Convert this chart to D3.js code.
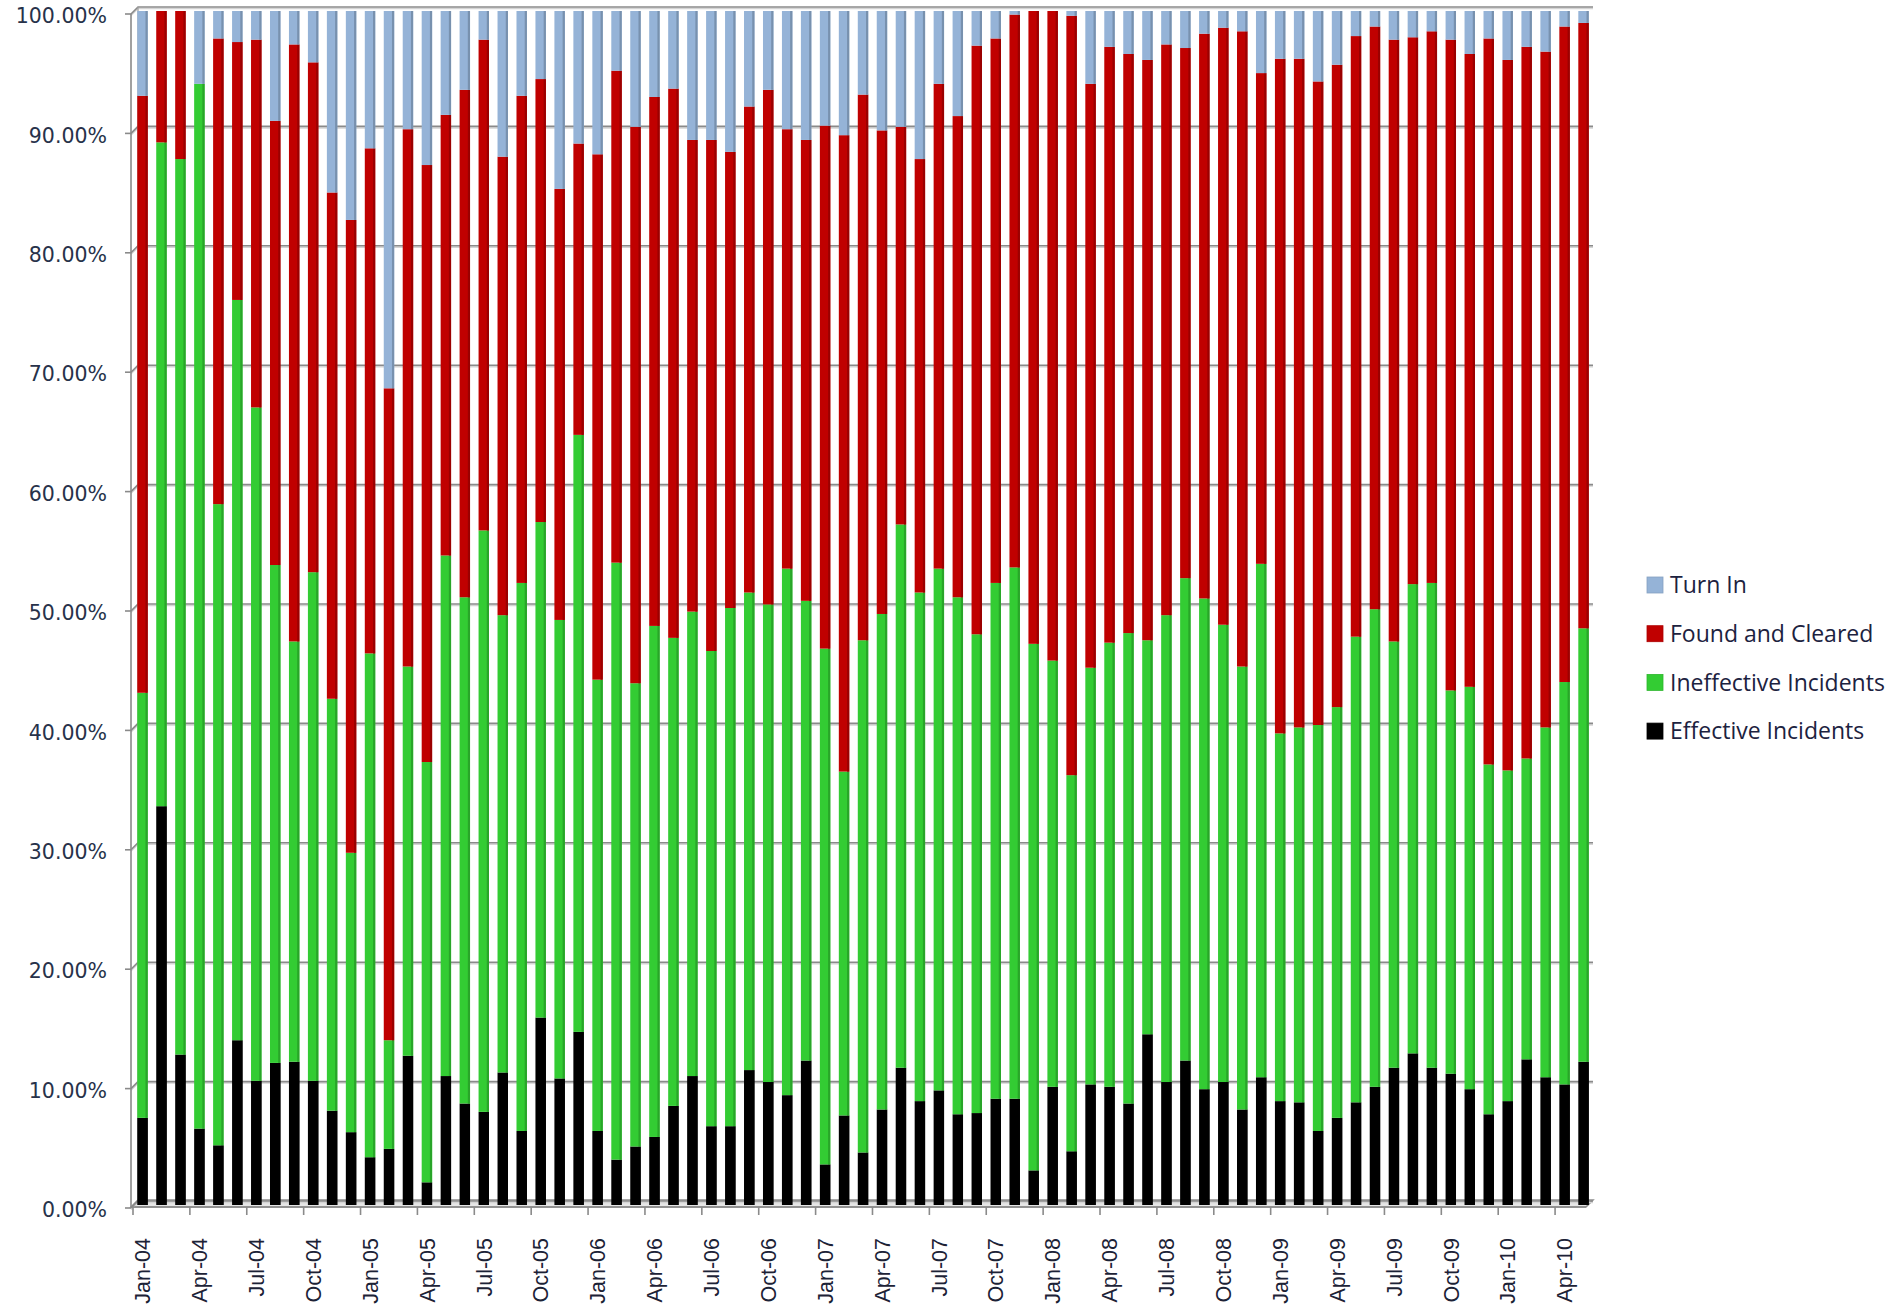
<!DOCTYPE html>
<html>
<head>
<meta charset="utf-8">
<script src="https://cdn.jsdelivr.net/npm/d3@7"></script>
<style>body{margin:0;background:#fff}</style>
</head>
<body>
<script>
// monthly categories, Jan-04 .. May-10
const months = [
  "Jan-04","Feb-04","Mar-04","Apr-04","May-04","Jun-04","Jul-04","Aug-04","Sep-04","Oct-04","Nov-04","Dec-04",
  "Jan-05","Feb-05","Mar-05","Apr-05","May-05","Jun-05","Jul-05","Aug-05","Sep-05","Oct-05","Nov-05","Dec-05",
  "Jan-06","Feb-06","Mar-06","Apr-06","May-06","Jun-06","Jul-06","Aug-06","Sep-06","Oct-06","Nov-06","Dec-06",
  "Jan-07","Feb-07","Mar-07","Apr-07","May-07","Jun-07","Jul-07","Aug-07","Sep-07","Oct-07","Nov-07","Dec-07",
  "Jan-08","Feb-08","Mar-08","Apr-08","May-08","Jun-08","Jul-08","Aug-08","Sep-08","Oct-08","Nov-08","Dec-08",
  "Jan-09","Feb-09","Mar-09","Apr-09","May-09","Jun-09","Jul-09","Aug-09","Sep-09","Oct-09","Nov-09","Dec-09",
  "Jan-10","Feb-10","Mar-10","Apr-10","May-10"
];

// shares in percent
const effective = [
  7.3,33.4,12.6,6.4,5.0,13.8,10.4,11.9,12.0,10.4,7.9,6.1,
  4.0,4.7,12.5,1.9,10.8,8.5,7.8,11.1,6.2,15.7,10.6,14.5,
  6.2,3.8,4.9,5.7,8.3,10.8,6.6,6.6,11.3,10.3,9.2,12.1,
  3.4,7.5,4.4,8.0,11.5,8.7,9.6,7.6,7.7,8.9,8.9,2.9,
  9.9,4.5,10.1,9.9,8.5,14.3,10.3,12.1,9.7,10.3,8.0,10.7,
  8.7,8.6,6.2,7.3,8.6,9.9,11.5,12.7,11.5,11.0,9.7,7.6,
  8.7,12.2,10.7,10.1,12.0
];
const ineffective = [
  35.6,55.6,75.0,87.5,53.7,62.0,56.4,41.7,35.2,42.6,34.5,23.4,
  42.2,9.1,32.6,35.2,43.6,42.4,48.7,38.3,45.9,41.5,38.4,50.0,
  37.8,50.0,38.8,42.8,39.2,38.9,39.8,43.4,40.0,40.0,44.1,38.5,
  43.2,28.8,42.9,41.5,45.5,42.6,43.7,43.3,40.1,43.2,44.5,44.1,
  35.7,31.5,34.9,37.2,39.4,33.0,39.1,40.4,41.1,38.3,37.1,43.0,
  30.8,31.4,34.0,34.4,39.0,40.0,35.7,39.3,40.6,32.1,33.7,29.3,
  27.7,25.2,29.3,33.7,36.3
];
const foundCleared = [
  50.0,11.0,12.4,0.0,39.0,21.6,30.8,37.2,50.0,42.7,42.4,53.0,
  42.3,54.6,45.0,50.0,36.9,42.5,41.1,38.4,40.8,37.1,36.1,24.4,
  44.0,41.2,46.6,44.3,46.0,39.5,42.8,38.2,40.7,43.1,36.8,38.6,
  43.8,53.3,45.7,40.5,33.3,36.3,40.6,40.3,49.3,45.6,46.3,53.0,
  54.4,63.6,48.9,49.9,48.5,48.6,47.8,44.4,47.3,50.0,53.2,41.1,
  56.5,56.0,53.9,53.8,50.3,48.8,50.4,45.8,46.2,54.5,53.0,60.8,
  59.5,59.6,56.6,54.9,50.7
];
const turnIn = [
  7.1,0.0,0.0,6.1,2.3,2.6,2.4,9.2,2.8,4.3,15.2,17.5,
  11.5,31.6,9.9,12.9,8.7,6.6,2.4,12.2,7.1,5.7,14.9,11.1,
  12.0,5.0,9.7,7.2,6.5,10.8,10.8,11.8,8.0,6.6,9.9,10.8,
  9.6,10.4,7.0,10.0,9.7,12.4,6.1,8.8,2.9,2.3,0.3,0.0,
  0.0,0.4,6.1,3.0,3.6,4.1,2.8,3.1,1.9,1.4,1.7,5.2,
  4.0,4.0,5.9,4.5,2.1,1.3,2.4,2.2,1.7,2.4,3.6,2.3,
  4.1,3.0,3.4,1.3,1.0
];

const seriesKeys = ["effective","ineffective","found","turnIn"];
const seriesNames = ["Effective Incidents","Ineffective Incidents","Found and Cleared","Turn In"];
const seriesColors = ["#000000","#33cc33","#c00000","#95b3d7"];

function main(){
  let width = 1893, height = 1309;
  let left = 133, right = 1593, top = 11, bottom = 1205; // plot box
  let dx = 7, dy = 7; // little 3d wall offset

  var svg = d3.select('body').append('svg')
    .attr('width', width)
    .attr('height', height)
    .style('display', 'block')
    .style('background', '#fff');

  let rows = months.map((m, i) => ({
    month: m, effective: effective[i], ineffective: ineffective[i],
    found: foundCleared[i], turnIn: turnIn[i]
  }));

  let stacked = d3.stack().keys(seriesKeys).offset(d3.stackOffsetExpand)(rows);

  var x = d3.scaleBand().domain(months).range([left, right])
    .paddingInner(0.45).paddingOuter(0.225);
  var y = d3.scaleLinear().domain([0, 1]).range([bottom, top]);
  var color = d3.scaleOrdinal().domain(seriesKeys).range(seriesColors);

  let yTicks = d3.range(0, 11).map(d => d / 10);

  // floor
  svg.append('path')
    .attr('d', `M${left - 2},${bottom + 2} L${right - dx},${bottom + 2} L${right},${bottom + 2 - dy} L${left - 2 + dx},${bottom + 2 - dy} Z`)
    .attr('fill', '#e6e6e6').attr('stroke', '#8c8c8c').attr('stroke-width', 1.5);

  // back wall gridlines with shadow
  var grid = svg.append('g');
  yTicks.forEach(t => {
    let yf = y(t) + 3, yb = y(t) + 3 - dy;
    grid.append('path')
      .attr('d', `M${left - 2},${yf + 1.5} L${left - 2 + dx},${yb + 1.5} L${right},${yb + 1.5}`)
      .attr('fill', 'none').attr('stroke', '#d4d4d4').attr('stroke-width', 1.5);
    grid.append('path')
      .attr('d', `M${left - 2},${yf} L${left - 2 + dx},${yb} L${right},${yb}`)
      .attr('fill', 'none').attr('stroke', '#8a8a8a').attr('stroke-width', 1.6);
  });
  // walls
  svg.append('line').attr('x1', left - 2 + dx).attr('x2', left - 2 + dx)
    .attr('y1', y(1) + 3 - dy).attr('y2', bottom + 2 - dy)
    .attr('stroke', '#a0a0a0').attr('stroke-width', 1.2);

  // bars
  let bw = x.bandwidth(), side = 2.2;
  var layer = svg.selectAll('g.layer')
    .data(stacked)
    .enter()
    .append('g')
    .attr('class', 'layer');

  layer.selectAll('rect.front')
    .data(d => d.map(p => ({p: p, key: d.key})))
    .enter()
    .append('rect')
    .attr('class', 'front')
    .attr('x', d => x(d.p.data.month))
    .attr('y', d => y(d.p[1]))
    .attr('width', bw)
    .attr('height', d => Math.max(0, y(d.p[0]) - y(d.p[1])))
    .attr('fill', d => color(d.key));

  layer.selectAll('rect.side')
    .data(d => d.map(p => ({p: p, key: d.key})))
    .enter()
    .append('rect')
    .attr('class', 'side')
    .attr('x', d => x(d.p.data.month) + bw - side)
    .attr('y', d => y(d.p[1]))
    .attr('width', side)
    .attr('height', d => Math.max(0, y(d.p[0]) - y(d.p[1])))
    .attr('fill', d => d3.color(color(d.key)).darker(d.key === 'effective' ? 0 : 0.6));

  // y axis line + ticks + labels
  svg.append('line').attr('x1', left - 2).attr('x2', left - 2)
    .attr('y1', y(1) + 3).attr('y2', bottom + 3)
    .attr('stroke', '#8a8a8a').attr('stroke-width', 1.6);
  yTicks.forEach(t => {
    svg.append('line').attr('x1', left - 8).attr('x2', left - 2)
      .attr('y1', y(t) + 3).attr('y2', y(t) + 3)
      .attr('stroke', '#8a8a8a').attr('stroke-width', 1.6);
  });
  svg.append('g').selectAll('text')
    .data(yTicks)
    .enter()
    .append('text')
    .attr('x', 107)
    .attr('y', d => y(d) + 5)
    .attr('dy', '0.35em')
    .attr('text-anchor', 'end')
    .style('font-family', '"DejaVu Sans", Verdana, sans-serif')
    .style('font-size', '20.5px')
    .style('fill', '#27324a')
    .text(d => d3.format('.2%')(d));

  // x axis line, ticks every 3 months, rotated labels
  svg.append('line').attr('x1', left - 2).attr('x2', right - dx)
    .attr('y1', bottom + 2).attr('y2', bottom + 2)
    .attr('stroke', '#8a8a8a').attr('stroke-width', 1.6);
  let step = x.step();
  let tickIdx = d3.range(0, months.length, 3);
  tickIdx.forEach(i => {
    let tx = x(months[i]) - step * x.paddingInner() / 2;
    if (i === 0) tx = left;
    svg.append('line').attr('x1', tx).attr('x2', tx)
      .attr('y1', bottom + 2).attr('y2', bottom + 10)
      .attr('stroke', '#8a8a8a').attr('stroke-width', 1.6);
  });
  svg.append('g').selectAll('text')
    .data(tickIdx)
    .enter()
    .append('text')
    .attr('transform', i => `translate(${x(months[i]) + bw / 2},1238) rotate(-90)`)
    .attr('dy', '0.36em')
    .attr('text-anchor', 'end')
    .style('font-family', '"Liberation Sans", Arial, sans-serif')
    .style('font-size', '21.5px')
    .style('fill', '#1c2236')
    .text(i => months[i]);

  // legend (top to bottom: reverse stack order)
  var legend = svg.append('g').attr('transform', 'translate(1647,577)');
  let legendOrder = [3, 2, 1, 0];
  var item = legend.selectAll('g')
    .data(legendOrder)
    .enter()
    .append('g')
    .attr('transform', (d, i) => `translate(0,${i * 48.7})`);
  item.append('rect')
    .attr('width', 16).attr('height', 16)
    .attr('fill', d => seriesColors[d])
    .attr('stroke', d => d3.color(seriesColors[d]).darker(0.3)).attr('stroke-width', 0.8);
  item.append('text')
    .attr('x', 23)
    .attr('y', 8)
    .attr('dy', '0.36em')
    .style('font-family', '"Open Sans", sans-serif')
    .style('font-size', '23px')
    .style('fill', '#1c2240')
    .text(d => seriesNames[d]);
}
main();
</script>
</body>
</html>
